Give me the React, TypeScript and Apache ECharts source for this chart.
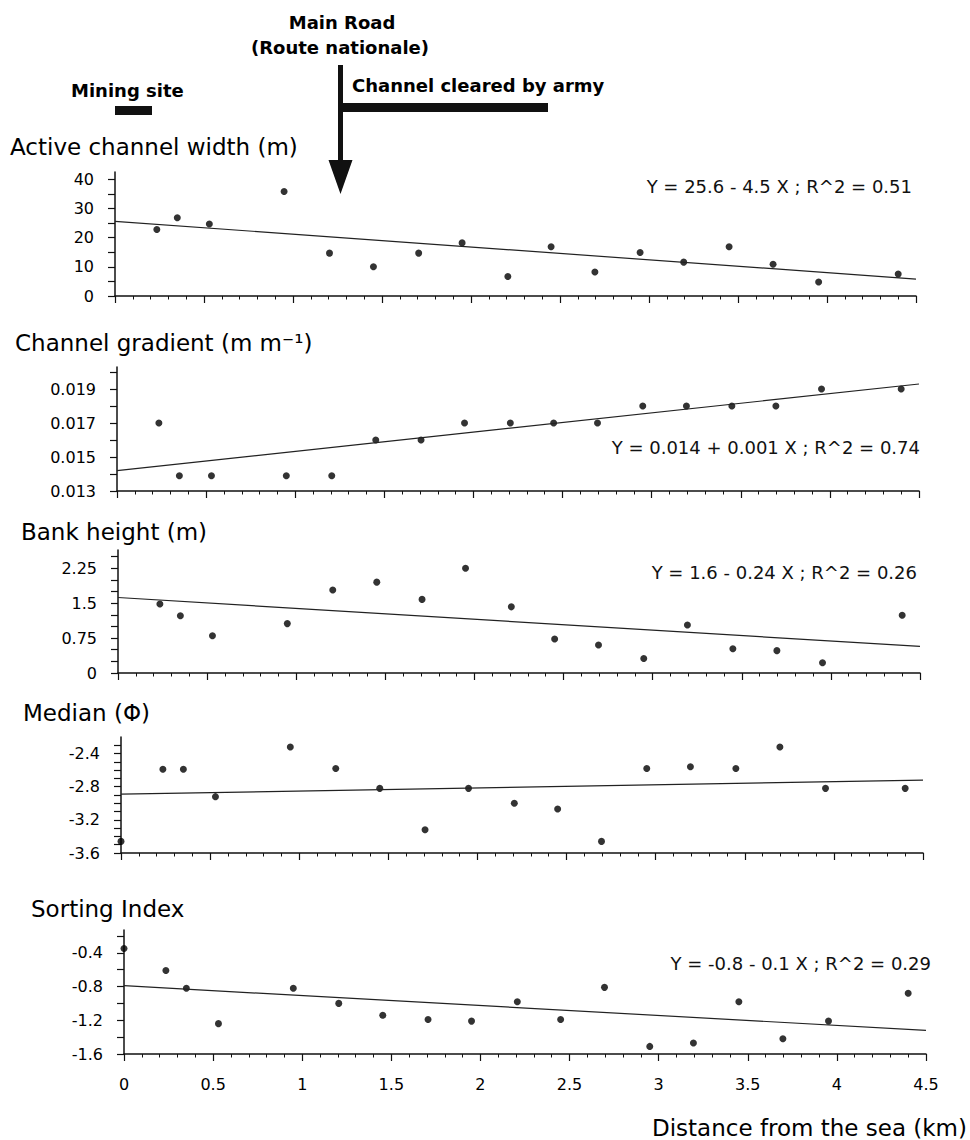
import React, { useEffect, useRef } from "react";
import * as echarts from "echarts";

// ---- Data ----
const distanceKm = [0, 0.235, 0.35, 0.53, 0.95, 1.205, 1.452, 1.706, 1.95, 2.207, 2.45, 2.696, 2.95, 3.195, 3.45, 3.697, 3.953, 4.4];
const activeWidth = [null, 22.8, 26.8, 24.7, 35.8, 14.7, 10.0, 14.7, 18.2, 6.7, 16.9, 8.2, 14.9, 11.6, 16.9, 10.9, 4.8, 7.5];
const channelGradient = [null, 0.017, 0.0139, 0.0139, 0.0139, 0.0139, 0.016, 0.016, 0.017, 0.017, 0.017, 0.017, 0.018, 0.018, 0.018, 0.018, 0.019, 0.019];
const bankHeight = [null, 1.48, 1.23, 0.8, 1.06, 1.78, 1.95, 1.58, 2.25, 1.42, 0.73, 0.6, 0.31, 1.03, 0.52, 0.48, 0.22, 1.24];
const medianPhi = [-3.46, -2.59, -2.59, -2.92, -2.32, -2.58, -2.82, -3.32, -2.82, -3.0, -3.07, -3.46, -2.58, -2.56, -2.58, -2.32, -2.82, -2.82];
const sortingIndex = [-0.35, -0.61, -0.82, -1.24, -0.82, -1.0, -1.14, -1.19, -1.21, -0.98, -1.19, -0.81, -1.51, -1.47, -0.98, -1.42, -1.21, -0.88];

// Regression lines (values read at x = 0 and x = 4.5)
const fitX = [0, 4.5];
const fitWidth = [25.6, 5.8];
const fitGradient = [0.0142, 0.0193];
const fitBank = [1.62, 0.57];
const fitMedian = [-2.89, -2.72];
const fitSorting = [-0.79, -1.32];

// Tick values and labels
const xLabelValues = [0, 0.5, 1, 1.5, 2, 2.5, 3, 3.5, 4, 4.5];
const widthTicks = [0, 5, 10, 15, 20, 25, 30, 35, 40];
const widthLabels = [0, 10, 20, 30, 40];
const gradientTicks = [0.013, 0.014, 0.015, 0.016, 0.017, 0.018, 0.019, 0.02];
const gradientLabels = [0.013, 0.015, 0.017, 0.019];
const bankTicks = [0, 0.25, 0.5, 0.75, 1, 1.25, 1.5, 1.75, 2, 2.25, 2.5];
const bankLabels = [0, 0.75, 1.5, 2.25];
const medianTicks = [-3.6, -3.5, -3.4, -3.3, -3.2, -3.1, -3.0, -2.9, -2.8, -2.7, -2.6, -2.5, -2.4, -2.3];
const medianLabels = [-3.6, -3.2, -2.8, -2.4];
const sortingTicks = [-1.6, -1.4, -1.2, -1.0, -0.8, -0.6, -0.4, -0.2];
const sortingLabels = [-1.6, -1.2, -0.8, -0.4];

const panelTitles = [
  "Active channel width (m)",
  "Channel gradient (m m\u207B\u00B9)",
  "Bank height (m)",
  "Median (\u03A6)",
  "Sorting Index",
];
const equations = [
  "Y = 25.6 - 4.5 X ; R^2 = 0.51",
  "Y = 0.014 + 0.001 X ; R^2 = 0.74",
  "Y = 1.6 - 0.24 X ; R^2 = 0.26",
  "",
  "Y = -0.8 - 0.1 X ; R^2 = 0.29",
];
const xAxisTitle = "Distance from the sea (km)";

// ---- Layout (pixels) ----
const FONT = "'DejaVu Sans', 'Liberation Sans', sans-serif";
const panels = [
  { left: 115, top: 172, width: 801, height: 124, yMin: 0, yMax: 42.5, values: activeWidth, fit: fitWidth, ticks: widthTicks, labels: widthLabels, titleX: 10, titleY: 147, eqX: 912, eqY: 186 },
  { left: 117, top: 367, width: 802, height: 124, yMin: 0.013, yMax: 0.0203, values: channelGradient, fit: fitGradient, ticks: gradientTicks, labels: gradientLabels, titleX: 15, titleY: 343, eqX: 920, eqY: 447 },
  { left: 118, top: 550, width: 802, height: 123, yMin: 0, yMax: 2.64, values: bankHeight, fit: fitBank, ticks: bankTicks, labels: bankLabels, titleX: 21, titleY: 532, eqX: 917, eqY: 572 },
  { left: 121, top: 737, width: 802, height: 116, yMin: -3.6, yMax: -2.2, values: medianPhi, fit: fitMedian, ticks: medianTicks, labels: medianLabels, titleX: 23, titleY: 713, eqX: 920, eqY: 760 },
  { left: 124, top: 930, width: 802, height: 124, yMin: -1.6, yMax: -0.13, values: sortingIndex, fit: fitSorting, ticks: sortingTicks, labels: sortingLabels, titleX: 31, titleY: 909, eqX: 931, eqY: 963 },
];

const fmt = (v: number) => String(parseFloat(Number(v).toFixed(4)));

export default function App() {
  const ref = useRef<HTMLDivElement>(null);

  useEffect(() => {
    if (!ref.current) return;
    const chart = echarts.init(ref.current, undefined, { renderer: "svg" });

    const grid = panels.map((p) => ({ left: p.left, top: p.top, width: p.width, height: p.height }));

    const xAxis = panels.map((p, i) => ({
      type: "value",
      gridIndex: i,
      min: 0,
      max: 4.5,
      interval: 0.5,
      axisLine: { show: true, onZero: false, lineStyle: { color: "#111", width: 1.5 } },
      axisTick: { show: true, length: 7, lineStyle: { color: "#111", width: 1.2 } },
      minorTick: { show: true, splitNumber: 5, length: 3.5, lineStyle: { color: "#111", width: 1 } },
      axisLabel: {
        show: i === 4,
        margin: 22,
        customValues: xLabelValues,
        formatter: fmt,
        color: "#000",
        fontSize: 16,
        fontFamily: FONT,
      },
      splitLine: { show: false },
      minorSplitLine: { show: false },
    }));

    const yAxis = panels.map((p, i) => ({
      type: "value",
      gridIndex: i,
      min: p.yMin,
      max: p.yMax,
      axisLine: { show: true, onZero: false, lineStyle: { color: "#111", width: 1.5 } },
      axisTick: { show: true, length: 7, customValues: p.ticks, lineStyle: { color: "#111", width: 1.2 } },
      axisLabel: {
        show: true,
        margin: 21,
        customValues: p.labels,
        formatter: fmt,
        color: "#000",
        fontSize: 16,
        fontFamily: FONT,
      },
      splitLine: { show: false },
    }));

    const series: any[] = [];
    panels.forEach((p, i) => {
      const pts = distanceKm
        .map((x, k) => [x, p.values[k]])
        .filter((d) => d[1] !== null && d[1] !== undefined);
      series.push({
        type: "scatter",
        xAxisIndex: i,
        yAxisIndex: i,
        data: pts,
        symbol: "circle",
        symbolSize: 7,
        itemStyle: { color: "#000" },
        silent: true,
      });
      series.push({
        type: "line",
        xAxisIndex: i,
        yAxisIndex: i,
        data: fitX.map((x, k) => [x, p.fit[k]]),
        showSymbol: false,
        lineStyle: { color: "#222", width: 1.2 },
        silent: true,
      });
    });

    const graphic: any[] = [];
    panels.forEach((p, i) => {
      graphic.push({
        type: "text",
        x: p.titleX,
        y: p.titleY,
        style: { text: panelTitles[i], fill: "#000", font: `23px ${FONT}`, align: "left", verticalAlign: "middle" },
      });
      if (equations[i]) {
        graphic.push({
          type: "text",
          x: p.eqX,
          y: p.eqY,
          style: { text: equations[i], fill: "#111", font: `18px ${FONT}`, align: "right", verticalAlign: "middle" },
        });
      }
    });
    graphic.push({
      type: "text",
      x: 967,
      y: 1128,
      style: { text: xAxisTitle, fill: "#000", font: `23px ${FONT}`, align: "right", verticalAlign: "middle" },
    });
    // Annotations at the top
    graphic.push(
      { type: "text", x: 342, y: 22, style: { text: "Main Road", fill: "#000", font: `bold 18px ${FONT}`, align: "center", verticalAlign: "middle" } },
      { type: "text", x: 340, y: 47, style: { text: "(Route nationale)", fill: "#000", font: `bold 18px ${FONT}`, align: "center", verticalAlign: "middle" } },
      { type: "text", x: 352, y: 85, style: { text: "Channel cleared by army", fill: "#000", font: `bold 18px ${FONT}`, align: "left", verticalAlign: "middle" } },
      { type: "text", x: 71, y: 90, style: { text: "Mining site", fill: "#000", font: `bold 18px ${FONT}`, align: "left", verticalAlign: "middle" } },
      { type: "rect", shape: { x: 115, y: 106, width: 37, height: 9 }, style: { fill: "#111" } },
      { type: "rect", shape: { x: 338, y: 65, width: 5, height: 97 }, style: { fill: "#111" } },
      { type: "polygon", shape: { points: [[328.5, 160], [352.5, 160], [340.5, 194]] }, style: { fill: "#111" } },
      { type: "rect", shape: { x: 340, y: 103, width: 208, height: 9 }, style: { fill: "#111" } }
    );

    chart.setOption({
      animation: false,
      backgroundColor: "#fff",
      grid,
      xAxis,
      yAxis,
      series,
      graphic,
    });

    return () => chart.dispose();
  }, []);

  return <div ref={ref} style={{ position: "absolute", left: 0, top: 0, width: 970, height: 1140 }} />;
}
